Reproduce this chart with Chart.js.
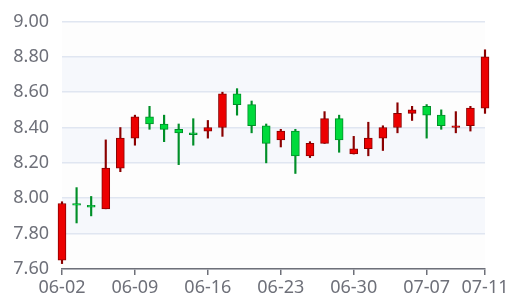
<!DOCTYPE html>
<html>
<head>
<meta charset="utf-8">
<script src="https://cdn.jsdelivr.net/npm/chart.js@4"></script>
<style>
  html, body { margin: 0; padding: 0; background: #fff; }
  #wrap { width: 526px; height: 303px; position: relative; }
</style>
</head>
<body>
<div id="wrap"><canvas id="kline"></canvas></div>
<script>
const dates = [
  '06-02', '06-03', '06-04', '06-05', '06-06',
  '06-09', '06-10', '06-11', '06-12', '06-13',
  '06-16', '06-17', '06-18', '06-19', '06-20',
  '06-23', '06-24', '06-25', '06-26', '06-27',
  '06-30', '07-01', '07-02', '07-03', '07-04',
  '07-07', '07-08', '07-09', '07-10', '07-11'
]
const openPrices = [
  7.65, 7.97, 7.96, 7.94, 8.17, 8.34, 8.46, 8.42, 8.39, 8.37,
  8.38, 8.40, 8.59, 8.53, 8.41, 8.33, 8.38, 8.24, 8.31, 8.45,
  8.25, 8.28, 8.34, 8.40, 8.48, 8.52, 8.47, 8.40, 8.41, 8.51
]
const closePrices = [
  7.97, 7.96, 7.95, 8.17, 8.34, 8.46, 8.42, 8.39, 8.37, 8.36,
  8.40, 8.59, 8.53, 8.41, 8.31, 8.38, 8.24, 8.31, 8.45, 8.33,
  8.28, 8.34, 8.40, 8.48, 8.50, 8.47, 8.41, 8.41, 8.51, 8.80
]
const lowPrices = [
  7.63, 7.86, 7.90, 7.94, 8.15, 8.30, 8.39, 8.32, 8.19, 8.30,
  8.34, 8.35, 8.47, 8.37, 8.20, 8.29, 8.14, 8.23, 8.31, 8.26,
  8.25, 8.24, 8.27, 8.37, 8.44, 8.34, 8.39, 8.37, 8.38, 8.48
]
const highPrices = [
  7.98, 8.06, 8.01, 8.33, 8.40, 8.47, 8.52, 8.47, 8.42, 8.45,
  8.44, 8.60, 8.62, 8.55, 8.42, 8.39, 8.39, 8.32, 8.49, 8.47,
  8.35, 8.43, 8.41, 8.54, 8.52, 8.53, 8.50, 8.49, 8.52, 8.84
]

const upColor = '#ec0000'
const upBorder = '#8a0000'
const downColor = '#00da3c'
const downBorder = '#008f28'
const textColor = '#6e7079'

const isUp = openPrices.map((o, i) => closePrices[i] >= o)

// alternating split-area bands behind the grid
const splitArea = {
  id: 'splitArea',
  beforeDraw(chart) {
    const { ctx, chartArea, scales: { y } } = chart
    const ticks = y.ticks
    ctx.save()
    for (let i = 0; i < ticks.length - 1; i++) {
      const y0 = y.getPixelForValue(ticks[i].value)
      const y1 = y.getPixelForValue(ticks[i + 1].value)
      ctx.fillStyle = i % 2 === 0 ? 'rgba(250,250,250,0.3)' : 'rgba(210,219,238,0.2)'
      ctx.fillRect(chartArea.left, y1, chartArea.right - chartArea.left, y0 - y1)
    }
    ctx.restore()
  }
}

const showLabel = (i) => i % 5 === 0 || i === dates.length - 1

new Chart(document.querySelector('#kline'), {
  type: 'bar',
  plugins: [splitArea],
  data: {
    labels: dates,
    datasets: [
      {
        label: 'body',
        data: openPrices.map((o, i) => [o, closePrices[i]]),
        backgroundColor: isUp.map(u => u ? upColor : downColor),
        borderColor: isUp.map(u => u ? upBorder : downBorder),
        borderWidth: 1,
        borderSkipped: false,
        barThickness: 8,
        grouped: false,
        clip: false,
        order: 0
      },
      {
        label: 'wick',
        data: lowPrices.map((l, i) => [l, highPrices[i]]),
        backgroundColor: isUp.map(u => u ? upBorder : downBorder),
        borderWidth: 0,
        barThickness: 1.5,
        grouped: false,
        clip: false,
        order: 1
      }
    ]
  },
  options: {
    responsive: true,
    maintainAspectRatio: false,
    animation: false,
    layout: {
      padding: { top: 21.5, right: 41, left: 14, bottom: 2.5 }
    },
    scales: {
      x: {
        offset: false,
        border: { display: true, color: textColor, width: 1.5 },
        grid: {
          offset: false,
          drawOnChartArea: false,
          drawTicks: true,
          tickLength: 6,
          lineWidth: 1.5,
          color: (c) => showLabel(c.index) ? textColor : 'rgba(0,0,0,0)'
        },
        ticks: {
          autoSkip: false,
          maxRotation: 0,
          padding: 2,
          color: textColor,
          font: { family: 'Noto Sans', size: 18 },
          callback: function(value, index) {
            return showLabel(index) ? dates[index] : ''
          }
        }
      },
      y: {
        min: 7.6,
        max: 9.0,
        afterFit(scale) {
          scale.width = 48
          scale.paddingTop = 0
          scale.paddingBottom = 0
        },
        border: { display: false },
        grid: {
          color: '#e0e6f1',
          lineWidth: 1.5,
          drawTicks: false
        },
        ticks: {
          stepSize: 0.2,
          padding: 13,
          color: textColor,
          font: { family: 'Noto Sans', size: 18 },
          callback: (v) => Number(v).toFixed(2)
        }
      }
    },
    plugins: {
      legend: { display: false },
      tooltip: { enabled: false }
    }
  }
})
</script>
</body>
</html>
